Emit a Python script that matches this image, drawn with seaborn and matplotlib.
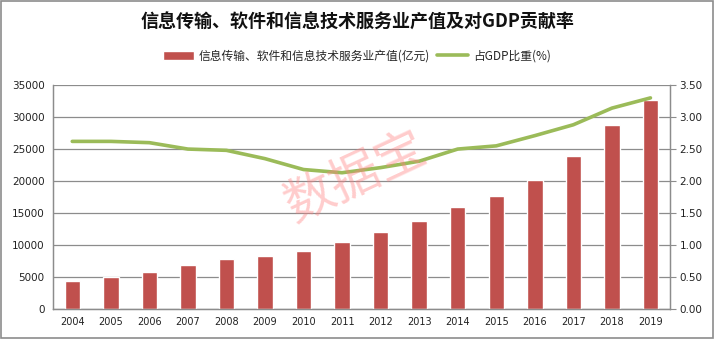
import matplotlib
matplotlib.use("Agg")
import matplotlib.pyplot as plt
import seaborn as sns
import numpy as np
import pandas as pd
from matplotlib.patches import Rectangle
from matplotlib.lines import Line2D

years = ["2004", "2005", "2006", "2007", "2008", "2009", "2010", "2011",
         "2012", "2013", "2014", "2015", "2016", "2017", "2018", "2019"]
output_value = [4300, 4950, 5750, 6850, 7860, 8260, 9050, 10450,
                12000, 13800, 16000, 17600, 20100, 23900, 28750, 32700]
gdp_share = [2.62, 2.62, 2.60, 2.50, 2.48, 2.35, 2.18, 2.13,
             2.21, 2.31, 2.50, 2.55, 2.71, 2.88, 3.14, 3.30]
left_ticks = [0, 5000, 10000, 15000, 20000, 25000, 30000, 35000]
right_ticks = [0, 0.5, 1.0, 1.5, 2.0, 2.5, 3.0, 3.5]

bar_label = "信息传输、软件和信息技术服务业产值(亿元)"
line_label = "占GDP比重(%)"
title = "信息传输、软件和信息技术服务业产值及对GDP贡献率"

sns.set_style("white")
plt.rcParams['font.family'] = ['Noto Sans CJK SC', 'DejaVu Sans']

df = pd.DataFrame({"year": years, "value": output_value, "share": gdp_share})
df["pos"] = np.arange(len(years))

fig = plt.figure(figsize=(7.14, 3.39), dpi=100)
ax = fig.add_axes([0.0742, 0.0885, 0.8638, 0.6605])

bar_color = "#C0504D"
line_color = "#9BBB59"
grid_color = "#8C8C8C"

sns.barplot(data=df, x="year", y="value", color=bar_color, width=0.4,
            saturation=1, ax=ax, zorder=3)
ax.set_ylim(0, 35000)
ax.set_yticks(left_ticks)
ax.set_yticklabels([str(t) for t in left_ticks], fontsize=7.5, color="#222222", family="DejaVu Sans")
ax.set_xlim(-0.5, len(years) - 0.5)
ax.set_xticks(range(len(years)))
ax.set_xticklabels(years, fontsize=7, color="#222222", family="DejaVu Sans")
ax.set_xlabel("")
ax.set_ylabel("")
ax.yaxis.grid(True, color=grid_color, linewidth=0.9, zorder=0)
ax.set_axisbelow(True)
ax.tick_params(axis="both", length=0, pad=6)

ax2 = ax.twinx()
sns.lineplot(data=df, x="pos", y="share", color=line_color, linewidth=2.6, ax=ax2, zorder=4)
ax2.set_ylim(0, 3.5)
ax2.set_yticks(right_ticks)
ax2.set_yticklabels([f"{t:.2f}" for t in right_ticks], fontsize=7.5, color="#222222", family="DejaVu Sans")
ax2.set_ylabel("")
ax2.set_xlabel("")
ax2.set_xlim(-0.5, len(years) - 0.5)
ax2.tick_params(axis="y", length=4, color=grid_color, pad=3)

for a in (ax, ax2):
    for side in ("left", "right", "bottom"):
        a.spines[side].set_color(grid_color)
        a.spines[side].set_linewidth(0.9)
    a.spines["top"].set_visible(False)

# title
fig.text(0.5, 0.935, title, ha="center", va="center", fontsize=13, fontweight="bold", color="#111111")

# legend
handles = [Rectangle((0, 0), 1, 1, facecolor=bar_color),
           Line2D([0], [0], color=line_color, linewidth=2.6)]
fig.legend(handles, [bar_label, line_label], loc="center", bbox_to_anchor=(0.5, 0.835),
           ncol=2, frameon=False, fontsize=8.5, handlelength=2.6, handleheight=0.8,
           columnspacing=0.6, handletextpad=0.4)

# watermark
fig.text(0.497, 0.475, "数据宝", ha="center", va="center", fontsize=36, color="#FF8080",
         alpha=0.4, rotation=25)

# figure border
fig.patches.append(Rectangle((0.002, 0.003), 0.996, 0.994, transform=fig.transFigure,
                             fill=False, edgecolor="#8C8C8C", linewidth=1.2))

fig.savefig("out.png", dpi=100)
